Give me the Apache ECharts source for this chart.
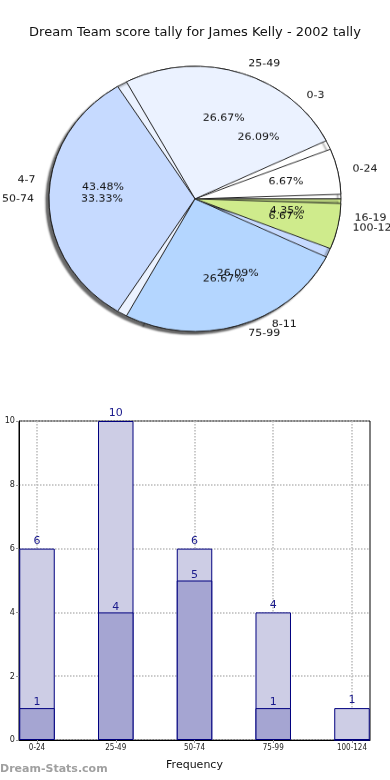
<!DOCTYPE html>
<html>
<head>
<meta charset="utf-8">
<script src="https://cdn.jsdelivr.net/npm/echarts@6/dist/echarts.min.js"></script>
<style>
  html, body { margin: 0; padding: 0; background: #fff; }
  #base { position: absolute; left: 0; top: 0; width: 390px; height: 780px; }
  #pie { position: absolute; left: 0; top: 0; width: 390px; height: 440px;
         transform: scaleY(0.908); transform-origin: 0 0; }
</style>
</head>
<body>
<div id="base"></div>
<div id="pie"></div>
<script>
// ---- data ----
const rangeNames = ['0-24', '25-49', '50-74', '75-99', '100-124'];
const rangeCounts = [1, 4, 5, 4, 1];
const tallyNames = ['0-3', '4-7', '8-11', '16-19'];
const tallyCounts = [6, 10, 6, 1];
const barCategories = ['0-24', '25-49', '50-74', '75-99', '100-124'];
const totalFreq = [6, 10, 6, 4, 1];
const subFreq = [1, 4, 5, 1, 0];
const titleText = 'Dream Team score tally for James Kelly - 2002 tally';

const rangeColors = ['#ffffff', '#ebf2ff', '#c6daff', '#b4d6ff', '#cfeb8c'];
const tallyColors = ['#ffffff', '#ebf2ff', '#c6daff', '#cfeb8c'];
const FONT = 'DejaVu Sans';

// ---- base chart: title + bar chart ----
const base = echarts.init(document.getElementById('base'), null, {renderer: 'canvas'});
const idx = barCategories.map((c, i) => i);
base.setOption({
  animation: false,
  title: {
    text: titleText, left: 'center', top: 21,
    textStyle: {fontFamily: FONT, fontSize: 13, fontWeight: 'normal', color: '#111'}
  },
  graphic: [{
    type: 'text', left: 0, top: 764,
    style: {text: 'Dream-Stats.com', fontFamily: FONT, fontSize: 11, fontWeight: 'bold', fill: '#a0a0a0'}
  }],
  grid: {left: 19, right: 20, top: 421, bottom: 40, show: true, borderColor: '#000', borderWidth: 1, backgroundColor: '#fff'},
  xAxis: {
    type: 'value', min: -0.2286, max: 4.2286,
    name: 'Frequency', nameLocation: 'middle', nameGap: 20,
    nameTextStyle: {fontFamily: FONT, fontSize: 11, color: '#111'},
    axisLine: {show: true, onZero: false, lineStyle: {color: '#000'}},
    axisTick: {show: true, customValues: idx, length: 3, lineStyle: {color: '#999'}},
    axisLabel: {customValues: idx, formatter: v => barCategories[Math.round(v)] || '',
      fontFamily: 'DejaVu Sans Condensed', fontSize: 8, color: '#222', margin: 4},
    splitLine: {show: true, lineStyle: {type: 'dotted', color: '#bbb', width: 1.5}}
  },
  yAxis: {
    type: 'value', min: 0, max: 10, interval: 2,
    axisLine: {show: true, onZero: false, lineStyle: {color: '#000'}},
    axisTick: {show: true, length: 3, lineStyle: {color: '#999'}},
    axisLabel: {fontFamily: 'DejaVu Sans Condensed', fontSize: 9, color: '#222', margin: 4},
    splitLine: {show: true, lineStyle: {type: 'dotted', color: '#bbb', width: 1.5}}
  },
  series: [
    {
      type: 'bar', barWidth: 35.5, barGap: '-100%', z: 2,
      data: totalFreq.map((v, i) => [i, v]),
      itemStyle: {color: '#cdcde5', borderColor: '#00007f', borderWidth: 1},
      label: {show: true, position: 'top', distance: 2, fontFamily: FONT, fontSize: 11, color: '#1a1a8c',
        formatter: p => p.value[1] > 0 ? String(p.value[1]) : ''}
    },
    {
      type: 'bar', barWidth: 35.5, barGap: '-100%', z: 3,
      data: subFreq.map((v, i) => [i, v]),
      itemStyle: {color: '#a5a5d2', borderColor: '#00007f', borderWidth: 1},
      label: {show: true, position: 'top', distance: 0, fontFamily: FONT, fontSize: 11, color: '#1a1a8c',
        formatter: p => p.value[1] > 0 ? String(p.value[1]) : ''}
    }
  ]
});

// ---- pie chart (squished vertically to an ellipse) ----
const pie = echarts.init(document.getElementById('pie'), null, {renderer: 'canvas'});
const C = [195, 219];
const R = 146;
const sum = a => a.reduce((s, v) => s + v, 0);
const rangeTotal = sum(rangeCounts);
const tallyTotal = sum(tallyCounts);
const rangeData = rangeNames.map((n, i) => ({name: n, value: rangeCounts[i], itemStyle: {color: rangeColors[i]}}));
const tallyData = tallyNames.map((n, i) => ({name: n, value: tallyCounts[i], itemStyle: {color: tallyColors[i]}}));
const outerLabel = {show: true, position: 'outside', formatter: '{b}', fontFamily: FONT, fontSize: 11, color: '#111', distanceToLabelLine: 5};
const pctLabel = total => ({show: true, position: 'inside', fontFamily: FONT, fontSize: 11, color: '#111',
  formatter: p => (p.value / total * 100).toFixed(2) + '%'});
const common = {
  type: 'pie', center: C, startAngle: 0, clockwise: false,
  avoidLabelOverlap: false, labelLayout: {hideOverlap: false},
  emphasis: {disabled: true}, silent: true,
  labelLine: {show: false, length: 10, length2: 0}
};
pie.setOption({
  animation: false,
  series: [
    Object.assign({}, common, {
      radius: R, z: 1, data: tallyData, label: outerLabel,
      itemStyle: {borderColor: '#222', borderWidth: 1, shadowColor: 'rgba(0,0,0,0.6)', shadowBlur: 2, shadowOffsetX: -3, shadowOffsetY: 3}
    }),
    Object.assign({}, common, {
      radius: R, z: 2, data: rangeData, label: outerLabel, padAngle: 4,
      itemStyle: {borderColor: '#222', borderWidth: 1}
    }),
    Object.assign({}, common, {
      radius: 180, z: 3, data: tallyData.map(d => ({name: d.name, value: d.value})), label: pctLabel(tallyTotal),
      itemStyle: {color: 'rgba(0,0,0,0)', borderWidth: 0}
    }),
    Object.assign({}, common, {
      radius: 180, z: 4, data: rangeData.map(d => ({name: d.name, value: d.value})), label: pctLabel(rangeTotal),
      itemStyle: {color: 'rgba(0,0,0,0)', borderWidth: 0}
    })
  ]
});
</script>
</body>
</html>
